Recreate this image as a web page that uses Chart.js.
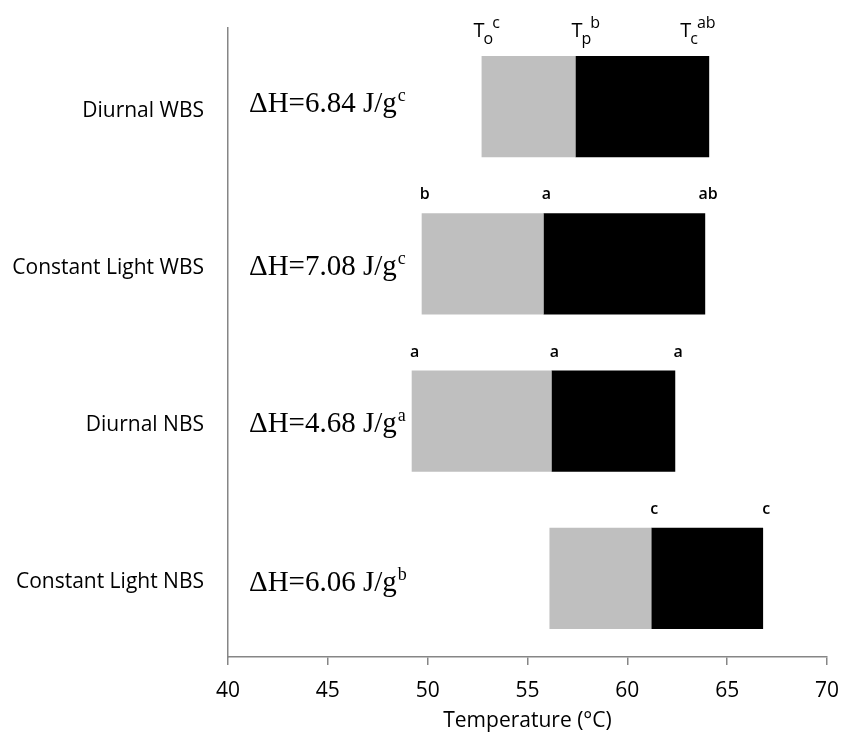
<!DOCTYPE html>
<html>
<head>
<meta charset="utf-8">
<script src="https://cdn.jsdelivr.net/npm/chart.js@4.4.0/dist/chart.umd.min.js"></script>
<style>
  body { margin: 0; background: #fff; }
  #wrap { width: 842px; height: 737px; position: relative; }
</style>
</head>
<body>
<div id="wrap"><canvas id="dscChart"></canvas></div>
<script>
// Samples and DSC temperatures (°C)
const categories = ['Diurnal WBS', 'Constant Light WBS', 'Diurnal NBS', 'Constant Light NBS'];
const onsetTemp = [52.7, 49.7, 49.2, 56.1];
const peakTemp = [57.4, 55.8, 56.2, 61.2];
const conclusionTemp = [64.1, 63.9, 62.4, 66.8];
const enthalpy = [6.84, 7.08, 4.68, 6.06];
const enthalpyLetters = ['c', 'c', 'a', 'b'];
const onsetLetters = ['c', 'b', 'a', ''];
const peakLetters = ['b', 'a', 'a', 'c'];
const conclusionLetters = ['ab', 'ab', 'a', 'c'];
const xTicks = [40, 45, 50, 55, 60, 65, 70];

const sans = "'Open Sans', sans-serif";
const serif = "'Liberation Serif', 'Times New Roman', serif";

// letters and enthalpy text drawn on top of the bars
const labelPlugin = {
  id: 'labelPlugin',
  afterDatasetsDraw(chart) {
    const ctx = chart.ctx;
    const xs = chart.scales.x;
    const bars = chart.getDatasetMeta(0).data;
    const cols = [onsetTemp, peakTemp, conclusionTemp];
    const letters = [onsetLetters, peakLetters, conclusionLetters];
    const subs = ['o', 'p', 'c'];
    const headerShift = [-8, -4, -29];
    const dhShift = [5, 11, 11, 13];

    ctx.save();
    ctx.fillStyle = '#000';
    ctx.textBaseline = 'alphabetic';

    categories.forEach(function(cat, i) {
      const bar = bars[i];
      const top = bar.y - bar.height / 2;

      // significance letters above each edge
      cols.forEach(function(col, k) {
        const letter = letters[k][i];
        if (!letter) return;
        const px = xs.getPixelForValue(col[i]);
        if (i === 0) {
          let x = px + headerShift[k];
          const base = top - 19;
          ctx.textAlign = 'left';
          ctx.font = '20px ' + sans;
          ctx.fillText('T', x, base);
          x += ctx.measureText('T').width - 1;
          ctx.font = '16px ' + sans;
          ctx.fillText(subs[k], x, base + 7);
          const w = ctx.measureText(subs[k]).width;
          ctx.fillText(letter, x + w - 1, base - 9);
        } else {
          ctx.textAlign = 'center';
          ctx.font = '600 16px ' + sans;
          ctx.fillText(letter, px + 3, top - 14);
        }
      });

      // enthalpy text
      const base = bar.y + dhShift[i];
      let x = chart.chartArea.left + 21;
      const txt = '\u0394H=' + enthalpy[i].toFixed(2) + ' J/g';
      ctx.textAlign = 'left';
      ctx.font = '29px ' + serif;
      ctx.fillText(txt, x, base);
      x += ctx.measureText(txt).width + 1;
      ctx.font = '18px ' + serif;
      ctx.fillText(enthalpyLetters[i], x, base - 11);
    });
    ctx.restore();
  }
};

const data = {
  labels: categories,
  datasets: [{
    label: 'Onset to peak',
    data: onsetTemp.map(function(v, i) { return [v, peakTemp[i]]; }),
    backgroundColor: '#bfbfbf',
    borderWidth: 0,
    grouped: false,
    barPercentage: 0.643,
    categoryPercentage: 1
  }, {
    label: 'Peak to conclusion',
    data: peakTemp.map(function(v, i) { return [v, conclusionTemp[i]]; }),
    backgroundColor: '#000000',
    borderWidth: 0,
    grouped: false,
    barPercentage: 0.643,
    categoryPercentage: 1
  }]
};

const options = {
  indexAxis: 'y',
  responsive: true,
  maintainAspectRatio: false,
  animation: false,
  layout: { padding: { top: 28, right: 15, left: 0, bottom: 0 } },
  plugins: {
    legend: { display: false },
    tooltip: { enabled: false }
  },
  scales: {
    x: {
      type: 'linear',
      min: 40,
      max: 70,
      afterBuildTicks: function(scale) {
        scale.ticks = xTicks.map(function(v) { return { value: v }; });
      },
      afterFit: function(scale) {
        scale.height = 80;
        scale.paddingLeft = 0;
        scale.paddingRight = 0;
      },
      grid: { drawOnChartArea: false, drawTicks: true, tickLength: 8, color: '#868686', lineWidth: 1.5 },
      border: { color: '#868686', width: 1.5 },
      ticks: { color: '#000', font: { family: sans, size: 21 }, padding: 13 },
      title: {
        display: true,
        text: 'Temperature (°C)',
        color: '#000',
        font: { family: sans, size: 21 },
        padding: { top: 0, bottom: 3 }
      }
    },
    y: {
      afterFit: function(scale) {
        scale.width = 228;
        scale.paddingTop = 0;
        scale.paddingBottom = 0;
      },
      grid: { drawOnChartArea: false, drawTicks: false },
      border: { color: '#868686', width: 1.5 },
      ticks: { color: '#000', font: { family: sans, size: 21 }, padding: 24, labelOffset: 4 }
    }
  }
};

new Chart(document.getElementById('dscChart').getContext('2d'), {
  type: 'bar',
  data: data,
  options: options,
  plugins: [labelPlugin]
});
</script>
</body>
</html>
